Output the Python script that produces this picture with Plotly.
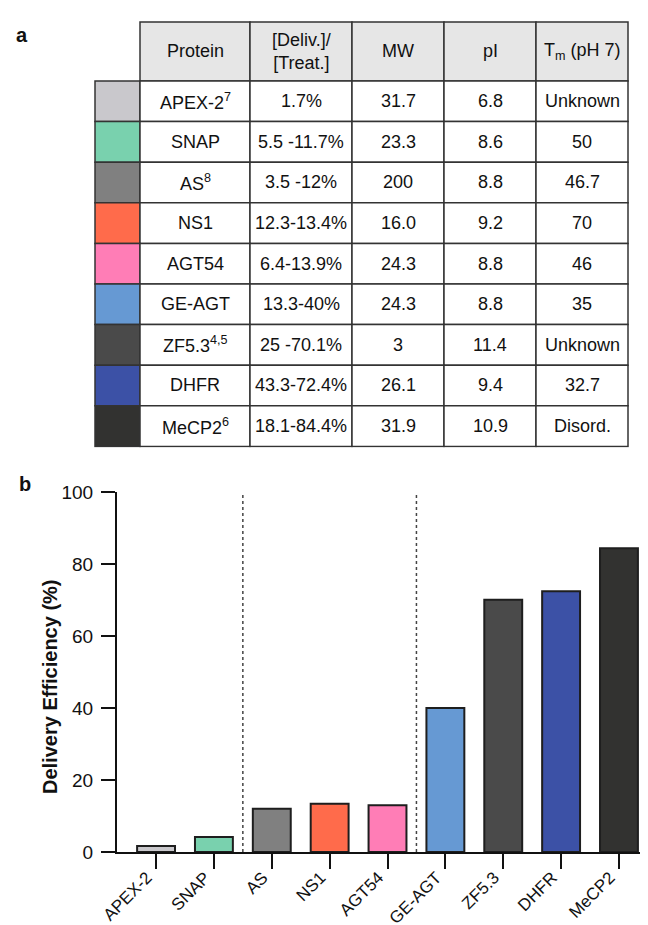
import plotly.graph_objects as go

# ---------------- data ----------------
proteins = ["APEX-2", "SNAP", "AS", "NS1", "AGT54", "GE-AGT", "ZF5.3", "DHFR", "MeCP2"]
protein_labels = ["APEX-2<sup>7</sup>", "SNAP", "AS<sup>8</sup>", "NS1", "AGT54", "GE-AGT",
                  "ZF5.3<sup>4,5</sup>", "DHFR", "MeCP2<sup>6</sup>"]
deliv_ratio = ["1.7%", "5.5 -11.7%", "3.5 -12%", "12.3-13.4%", "6.4-13.9%", "13.3-40%",
               "25 -70.1%", "43.3-72.4%", "18.1-84.4%"]
mw = ["31.7", "23.3", "200", "16.0", "24.3", "24.3", "3", "26.1", "31.9"]
pi_vals = ["6.8", "8.6", "8.8", "9.2", "8.8", "8.8", "11.4", "9.4", "10.9"]
tm = ["Unknown", "50", "46.7", "70", "46", "35", "Unknown", "32.7", "Disord."]
header_labels = ["", "Protein", "[Deliv.]/<br>[Treat.]", "MW", "pI", "T<sub>m</sub> (pH 7)"]

efficiency = [1.7, 4.2, 12.0, 13.4, 13.0, 40.0, 70.1, 72.4, 84.4]
colors = ["#c9c8cc", "#79d1ae", "#808080", "#ff6b4b", "#ff7db6",
          "#6699d3", "#4a4a4a", "#3c51a6", "#323230"]
group_breaks = [1.5, 4.5]
y_ticks = [0, 20, 40, 60, 80, 100]

# ---------------- style ----------------
FONT = "Liberation Sans, Arial, sans-serif"
W, H = 648, 925
col_widths = [45, 110, 102, 92, 92, 92]
header_h = 59
row_h = 40.6
header_fill = "#e6e6e6"
border = "#333333"

fig = go.Figure()

# ---------------- table (panel a), drawn on a hidden axis pair ----------------
n = len(proteins)
columns = [[""] * n, protein_labels, deliv_ratio, mw, pi_vals, tm]
edges = [0]
for w in col_widths:
    edges.append(edges[-1] + w)
row_tops = [0, header_h] + [header_h + row_h * i for i in range(1, n + 1)]
table_w = edges[-1]
table_h = row_tops[-1]

shapes = []
annotations = []
# header row
for c, label in enumerate(header_labels):
    if c == 0:
        continue
    shapes.append(dict(type="rect", xref="x2", yref="y2",
                       x0=edges[c], x1=edges[c + 1], y0=row_tops[0], y1=row_tops[1],
                       fillcolor=header_fill, line=dict(color=border, width=1.5), layer="below"))
    annotations.append(dict(text=label, xref="x2", yref="y2",
                            x=(edges[c] + edges[c + 1]) / 2, y=(row_tops[0] + row_tops[1]) / 2,
                            xanchor="center", yanchor="middle",
                            showarrow=False, font=dict(family=FONT, size=18, color="#111111")))
# body rows
for r in range(n):
    y0, y1 = row_tops[r + 1], row_tops[r + 2]
    for c, col in enumerate(columns):
        fill = colors[r] if c == 0 else "white"
        shapes.append(dict(type="rect", xref="x2", yref="y2",
                           x0=edges[c], x1=edges[c + 1], y0=y0, y1=y1,
                           fillcolor=fill, line=dict(color=border, width=1.5), layer="below"))
        if col[r]:
            annotations.append(dict(text=col[r], xref="x2", yref="y2",
                                    x=(edges[c] + edges[c + 1]) / 2, y=(y0 + y1) / 2,
                                    xanchor="center", yanchor="middle",
                                    showarrow=False,
                                    font=dict(family=FONT, size=18, color="#111111")))

# ---------------- bar chart (panel b) ----------------
fig.add_trace(go.Bar(
    x=proteins, y=efficiency,
    marker=dict(color=colors, line=dict(color="#1e1e1e", width=2)),
    xaxis="x", yaxis="y", showlegend=False,
))

for xb in group_breaks:
    shapes.append(dict(type="line", xref="x", yref="y", x0=xb, x1=xb, y0=0, y1=100,
                       line=dict(color="#444444", width=1.5, dash="dot")))

annotations += [
    dict(text="<b>a</b>", x=14 / W, y=1 - 27 / H, xref="paper", yref="paper",
         xanchor="center", yanchor="middle",
         showarrow=False, font=dict(family=FONT, size=20, color="#111111")),
    dict(text="<b>b</b>", x=17 / W, y=1 - 476 / H, xref="paper", yref="paper",
         xanchor="center", yanchor="middle",
         showarrow=False, font=dict(family=FONT, size=20, color="#111111")),
    dict(text="<b>Delivery Efficiency (%)</b>", x=42 / W, y=1 - 679 / H,
         xref="paper", yref="paper", textangle=-90, showarrow=False,
         xanchor="center", yanchor="middle",
         font=dict(family=FONT, size=20, color="#111111")),
]

fig.update_layout(
    width=W, height=H,
    margin=dict(l=0, r=0, t=0, b=0),
    paper_bgcolor="white", plot_bgcolor="white",
    font=dict(family=FONT, color="#111111"),
    bargap=0.345,
    xaxis=dict(
        domain=[109 / W, 1.0],
        range=[-0.675, 8.64],
        showline=True, linecolor="#111111", linewidth=2,
        ticks="outside", ticklen=15, tickwidth=2, tickcolor="#111111",
        tickangle=-45, tickfont=dict(family=FONT, size=17, color="#111111"),
        ticklabelstandoff=-8, ticklabelshift=-9,
        showgrid=False, zeroline=False, automargin=False,
        anchor="y",
    ),
    yaxis=dict(
        domain=[(H - 844) / H, (H - 484) / H],
        range=[0, 100],
        tickvals=y_ticks,
        showline=True, linecolor="#111111", linewidth=2,
        ticks="outside", ticklen=14, tickwidth=2, tickcolor="#111111",
        tickfont=dict(family=FONT, size=19, color="#111111"),
        ticklabelstandoff=4,
        showgrid=False, zeroline=False, automargin=False,
        anchor="x",
    ),
    xaxis2=dict(domain=[(87 - 1) / W, (87 + table_w + 1) / W], range=[-1, table_w + 1],
                visible=False, fixedrange=True, anchor="y2"),
    yaxis2=dict(domain=[1 - (14 + table_h + 1) / H, 1 - (14 - 1) / H],
                range=[table_h + 1, -1], visible=False, fixedrange=True, anchor="x2"),
    shapes=shapes,
    annotations=annotations,
)

fig.write_html("out.html")
